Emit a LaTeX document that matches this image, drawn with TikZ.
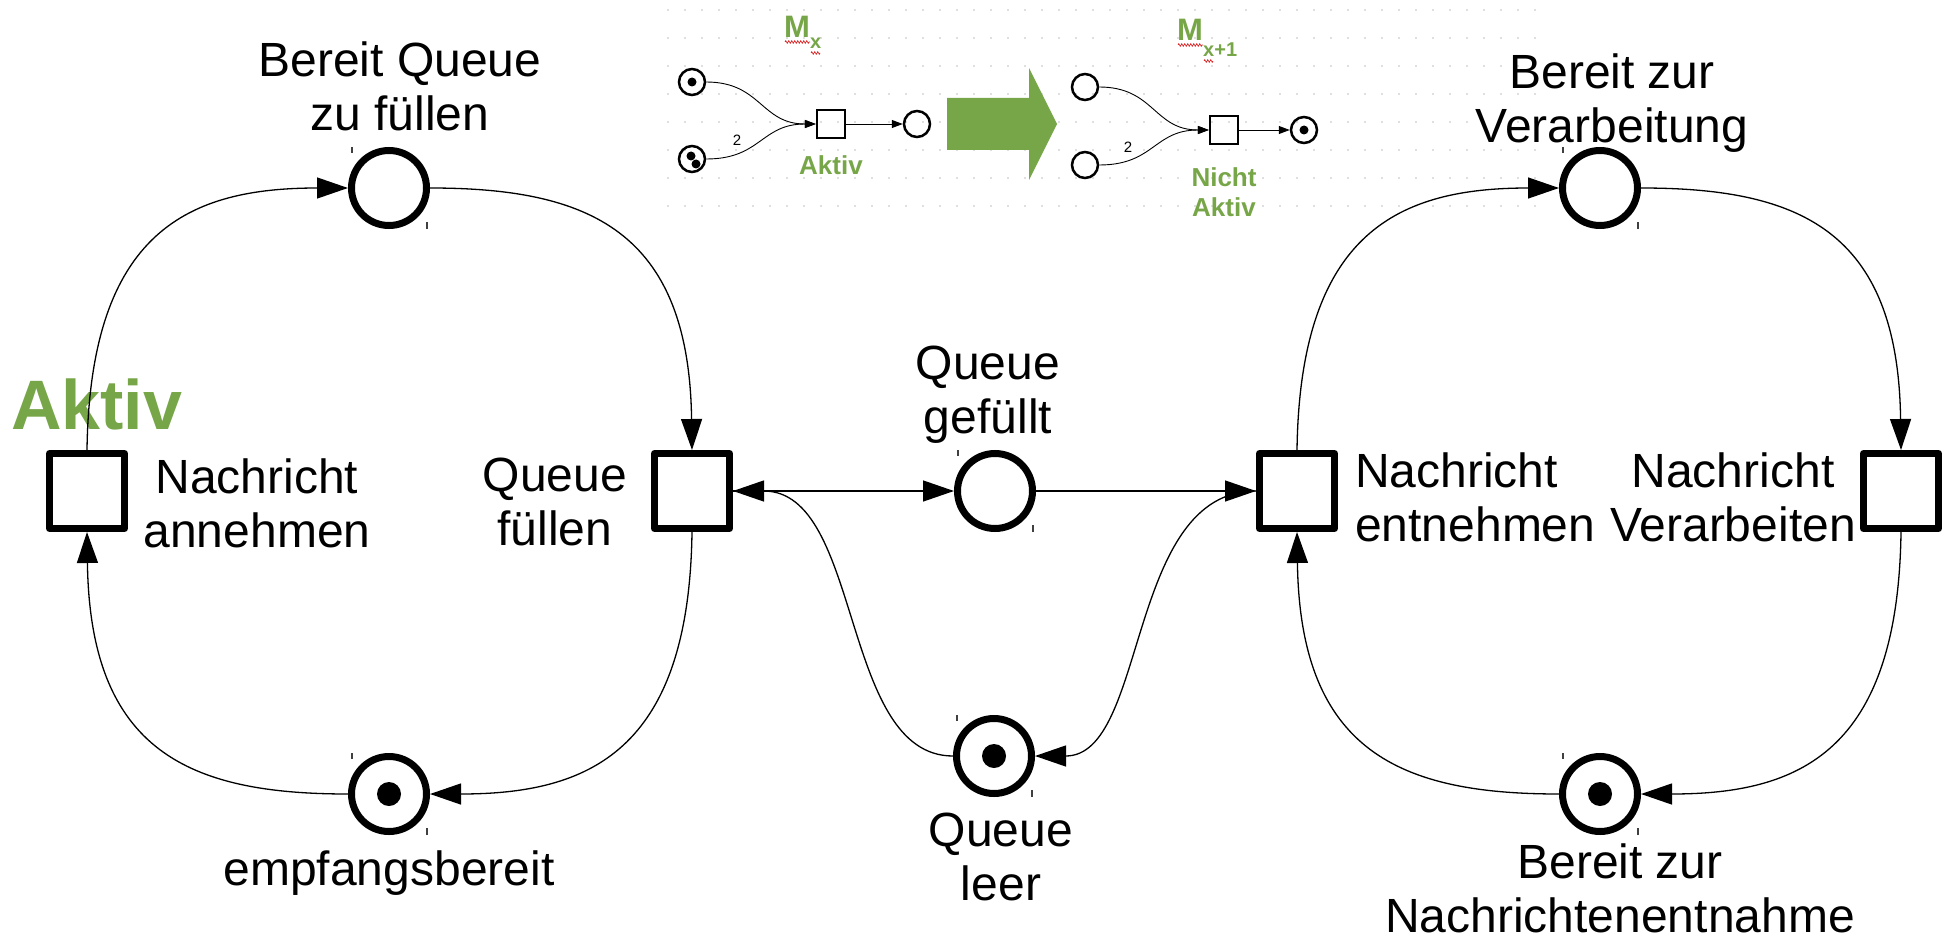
\documentclass[tikz,border=0pt]{standalone}
\usepackage{fontspec}
\setmainfont{Liberation Sans}
\usetikzlibrary{arrows.meta,calc,decorations.pathmorphing}
\definecolor{petrigreen}{RGB}{119,166,72}
\definecolor{gridgray}{RGB}{190,190,190}
\definecolor{spellred}{RGB}{220,40,40}

% multi-line label whose baseline is that of its first line
\newcommand\stk[2][c]{\begin{tabular}[t]{@{}#1@{}}#2\end{tabular}}

\begin{document}
\begin{tikzpicture}[x=1pt,y=-1pt,
  place/.style={circle,draw,line width=7pt,minimum size=75pt,inner sep=0pt},
  trans/.style={rectangle,draw,line width=7pt,minimum size=75pt,inner sep=0pt,line join=round},
  token/.style={circle,fill,inner sep=0pt,minimum size=24pt},
  arc/.style={line width=1.3pt,-{Triangle[length=31pt,width=21pt]}},
  lbl/.style={inner sep=0pt,anchor=base,font=\fontsize{48}{54}\selectfont},
  tickmark/.style={line width=1.2pt,black!75},
  iplace/.style={circle,draw,line width=2.5pt,minimum size=26pt,inner sep=0pt},
  itrans/.style={rectangle,draw,line width=2.5pt,minimum size=28pt,inner sep=0pt},
  itoken/.style={circle,fill,inner sep=0pt,minimum size=9pt},
  iarc/.style={line width=0.9pt,-{Triangle[length=11pt,width=8pt]}},
  ilbl/.style={inner sep=0pt,anchor=base,text=petrigreen,font=\fontsize{26}{30}\selectfont\bfseries},
  spell/.style={spellred,line width=0.7pt,decorate,decoration={zigzag,amplitude=1.3pt,segment length=3pt}}
]
\useasboundingbox (0,0) rectangle (1948,944);

% ---------- small example net with dotted grid ----------
\foreach \gx in {668,685,...,1540}
  \foreach \gy in {10,38,...,224}
    \fill[gridgray] (\gx,\gy) circle (0.8pt);

\node[inner sep=0pt,anchor=base west,text=petrigreen,font=\fontsize{31}{31}\selectfont\bfseries] (m1) at (784,38) {M};
\node[inner sep=0pt,anchor=base west,text=petrigreen,font=\fontsize{20}{20}\selectfont\bfseries] (m1s) at (810,49) {x};
\draw[spell] (785,42) -- (810,42);
\draw[spell] (811,53) -- (820,53);

\node[inner sep=0pt,anchor=base west,text=petrigreen,font=\fontsize{31}{31}\selectfont\bfseries] (m2) at (1177,41) {M};
\node[inner sep=0pt,anchor=base west,text=petrigreen,font=\fontsize{20}{20}\selectfont\bfseries] (m2s) at (1203,57) {x+1};
\draw[spell] (1178,45) -- (1203,45);
\draw[spell] (1204,61) -- (1213,61);

% before firing
\node[iplace] (a1) at (692,82) {};
\node[iplace] (a2) at (692,159) {};
\node[itrans] (ta) at (831,124) {};
\node[iplace] (ao) at (917,124) {};
\node[itoken] (a1t) at (a1) {};
\node[itoken] (a2t1) at ($(a2)+(-1,-3)$) {};
\node[itoken] (a2t2) at ($(a2)+(4,5)$) {};
\draw[iarc] (a1.east) .. controls +(55,0) and +(-55,0) .. (ta.west);
\draw[iarc] (a2.east) .. controls +(55,0) and +(-55,0) .. (ta.west);
\draw[iarc] (ta.east) -- (ao.west);
\node[inner sep=0pt,anchor=base,font=\fontsize{15}{15}\selectfont] (w1) at (737,146) {2};
\node[ilbl] (akt) at (831,175) {Aktiv};

% transition arrow
\fill[petrigreen] (947,98) -- (1029,98) -- (1029,68) -- (1057,124) -- (1029,180) -- (1029,150) -- (947,150) -- cycle;

% after firing
\node[iplace] (b1) at (1085,87) {};
\node[iplace] (b2) at (1085,165) {};
\node[itrans] (tb) at (1224,130) {};
\node[iplace] (bo) at (1304,130) {};
\node[itoken] (bot) at (bo) {};
\draw[iarc] (b1.east) .. controls +(55,0) and +(-55,0) .. (tb.west);
\draw[iarc] (b2.east) .. controls +(55,0) and +(-55,0) .. (tb.west);
\draw[iarc] (tb.east) -- (bo.west);
\node[inner sep=0pt,anchor=base,font=\fontsize{15}{15}\selectfont] (w2) at (1128,153) {2};
\node[ilbl] (nakt) at (1224,187) {\stk{Nicht\\Aktiv}};

% ---------- main net ----------
\node[place] (P1) at (389,188) {};
\node[place] (P2) at (389,794) {};
\node[trans] (T1) at (87,491) {};
\node[trans] (T2) at (692,491) {};
\node[place] (P3) at (995,491) {};
\node[place] (P4) at (994,756) {};
\node[trans] (T3) at (1297,491) {};
\node[trans] (T4) at (1901,491) {};
\node[place] (P5) at (1600,188) {};
\node[place] (P6) at (1600,794) {};

\node[token] (P2t) at (P2) {};
\node[token] (P4t) at (P4) {};
\node[token] (P6t) at (P6) {};

% selection ticks at the places
\foreach \p in {P1,P2,P3,P4,P5,P6}
  \draw[tickmark] ($(\p.west |- \p.north)+(4,0)$) -- ++(0,6)
                  ($(\p.east |- \p.south)+(-3,0)$) -- ++(0,-7);

% labels
\node[lbl] (L1) at (400,77) {\stk{Bereit Queue\\zu füllen}};
\node[lbl] (L2) at (389,885) {empfangsbereit};
\node[lbl] (L3) at (257,493) {\stk{Nachricht\\annehmen}};
\node[lbl] (L4) at (555,491) {\stk{Queue\\füllen}};
\node[lbl] (L5) at (988,379) {\stk{Queue\\gefüllt}};
\node[lbl] (L6) at (1001,846) {\stk{Queue\\leer}};
\node[lbl,anchor=base west] (L7) at (1355,487) {\stk[l]{Nachricht\\entnehmen}};
\node[lbl] (L8) at (1733,487) {\stk{Nachricht\\Verarbeiten}};
\node[lbl] (L9) at (1612,89) {\stk{Bereit zur\\Verarbeitung}};
% bottom label: anchored on the baseline of its last line
\node[lbl,anchor=south,align=center,text depth=0pt] (L10) at (1620,933) {Bereit zur\\Nachrichtenentnahme};

\node[inner sep=0pt,anchor=base west,text=petrigreen,font=\fontsize{70}{70}\selectfont\bfseries] (act) at (11,429) {Aktiv};

% left cycle
\draw[arc] (T1.north) .. controls +(3,-220) and +(-158,0) .. (P1.west);
\draw[arc] (P1.east) .. controls +(158,0) and +(-3,-220) .. (T2.north);
\draw[arc] (T2.south) .. controls +(-3,220) and +(158,0) .. (P2.east);
\draw[arc] (P2.west) .. controls +(-158,0) and +(3,220) .. (T1.south);

% queue
\draw[arc] (T2.east) -- (P3.west);
\draw[arc] (P3.east) -- (T3.west);
\draw[arc] (P4.west) .. controls +(-113,0) and +(130,0) .. (T2.east);
\draw[arc] (T3.west) .. controls +(-130,0) and +(113,0) .. (P4.east);

% right cycle
\draw[arc] (T3.north) .. controls +(3,-220) and +(-158,0) .. (P5.west);
\draw[arc] (P5.east) .. controls +(158,0) and +(-3,-220) .. (T4.north);
\draw[arc] (T4.south) .. controls +(-3,220) and +(158,0) .. (P6.east);
\draw[arc] (P6.west) .. controls +(-158,0) and +(3,220) .. (T3.south);
\end{tikzpicture}
\end{document}
